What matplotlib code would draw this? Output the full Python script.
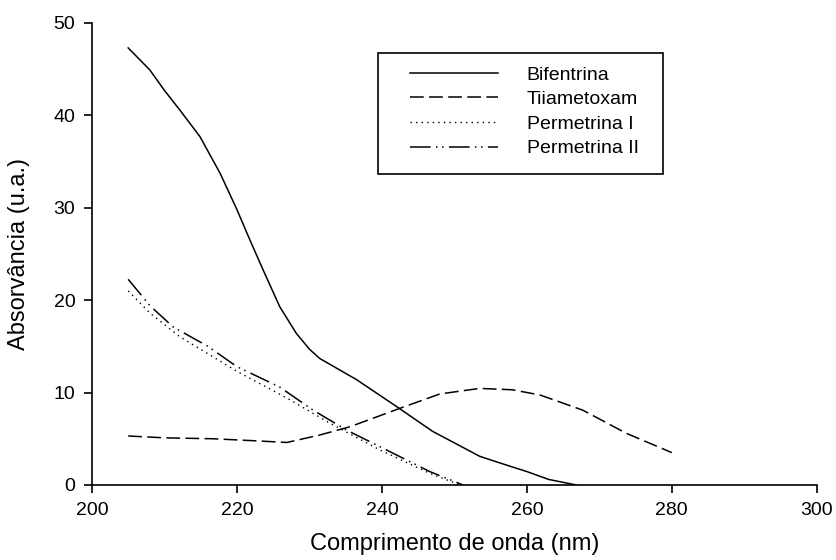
import matplotlib.pyplot as plt
from matplotlib.patches import Rectangle

plt.rcParams['font.family'] = ['Liberation Sans', 'DejaVu Sans']

# Espectros
bif_x = [205, 208, 210, 212.1, 214.9, 217.7, 220, 221.8, 223.6, 225.9, 228.2, 230, 231.4, 236.5, 242, 247, 253.5, 257, 260, 263, 266.8]
bif_y = [47.3, 44.9, 42.7, 40.6, 37.7, 33.7, 29.8, 26.5, 23.3, 19.3, 16.4, 14.7, 13.7, 11.4, 8.5, 5.8, 3.1, 2.2, 1.45, 0.6, 0.0]

tia_x = [205, 210, 216.7, 222, 226.9, 231.4, 235.6, 242.5, 248, 253.5, 258, 261.8, 267.7, 273.7, 280]
tia_y = [5.3, 5.1, 5.0, 4.8, 4.6, 5.4, 6.3, 8.3, 9.85, 10.45, 10.3, 9.74, 8.1, 5.6, 3.5]

per1_x = [205, 208, 212.1, 216, 220, 226.9, 232.8, 239.7, 246.6, 250.8]
per1_y = [21.0, 18.6, 16.05, 14.2, 12.3, 9.4, 6.7, 3.8, 1.26, 0.0]

per2_x = [205, 208, 211.2, 216, 220, 225.9, 230.5, 235.1, 240.6, 246.6, 251.2]
per2_y = [22.26, 19.4, 17.1, 15.0, 12.8, 10.6, 8.1, 5.95, 3.8, 1.45, 0.0]

fig = plt.figure(figsize=(8.36, 5.6), dpi=100)
ax = fig.add_axes([0.110, 0.134, 0.867, 0.825])

ax.plot(bif_x, bif_y, color='black', lw=1.1, label='Bifentrina')
ax.plot(tia_x, tia_y, color='black', lw=1.1, dashes=(9, 3.5), label='Tiiametoxam')
ax.plot(per1_x, per1_y, color='black', lw=1.0, dashes=(1, 3), label='Permetrina I')
ax.plot(per2_x, per2_y, color='black', lw=1.1, dashes=(13.5, 3.5, 1, 3, 1, 3.5), label='Permetrina II')

ax.set_xlim(200, 300)
ax.set_ylim(0, 50)
ax.set_xticks([200, 220, 240, 260, 280, 300])
ax.set_yticks([0, 10, 20, 30, 40, 50])
ax.spines['top'].set_visible(False)
ax.spines['right'].set_visible(False)
ax.spines['left'].set_linewidth(1.2)
ax.spines['bottom'].set_linewidth(1.2)
ax.tick_params(direction='out', length=6, width=1.2, labelsize=14, pad=6)

ax.set_xlabel('Comprimento de onda (nm)', fontsize=17, labelpad=10)
ax.set_ylabel('Absorvância (u.a.)', fontsize=17, labelpad=17)

# legenda sem moldura + caixa desenhada a parte
leg = ax.legend(loc='upper left', bbox_to_anchor=(410 / 836, 1 - 66 / 560),
                bbox_transform=fig.transFigure, fontsize=14,
                handlelength=4.5, handletextpad=1.5, labelspacing=0.36,
                frameon=False, borderpad=0, borderaxespad=0)
fig.patches.append(Rectangle((378 / 836, 1 - 174 / 560), 285 / 836, 121 / 560,
                             transform=fig.transFigure, fill=False,
                             edgecolor='black', lw=1.2))

plt.savefig('out.png')
